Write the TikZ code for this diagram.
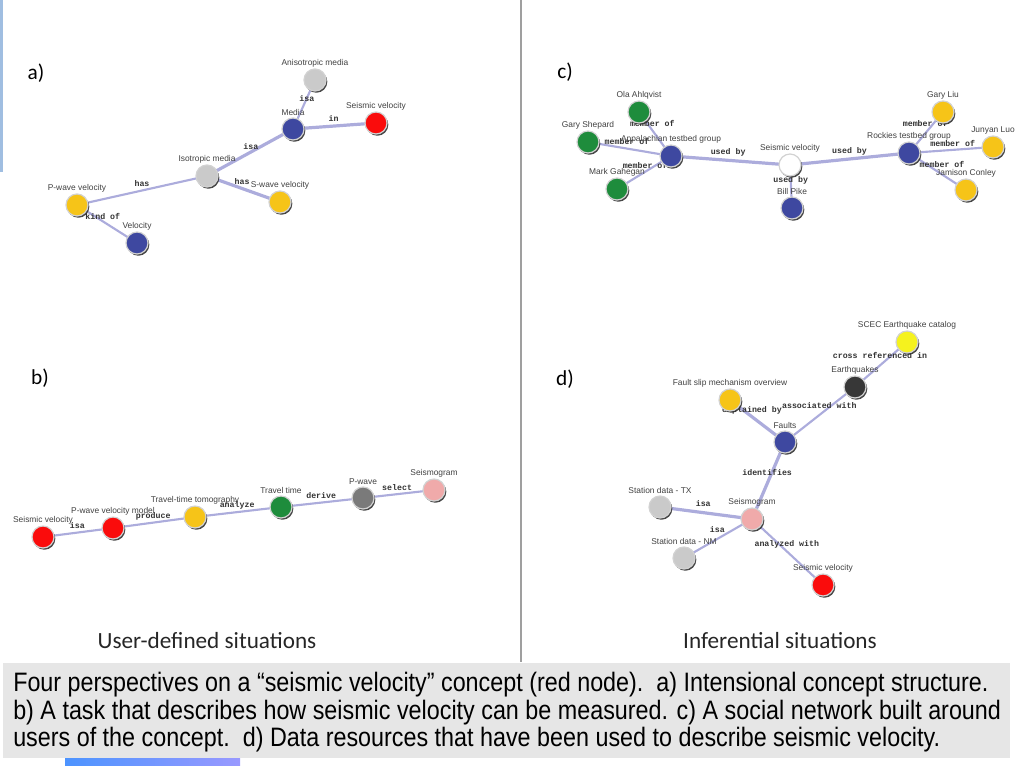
\documentclass[tikz,border=0pt]{standalone}
\usepackage{fontspec}
\setmainfont{Liberation Sans}
\newfontfamily\titlefont{Carlito}
\newfontfamily\edgefont{Liberation Mono}
\newfontfamily\narrowfont[FakeStretch=0.875]{Liberation Sans}
\usetikzlibrary{shadows, backgrounds}

\definecolor{linkcol}{RGB}{172,172,220}
\definecolor{cRed}{RGB}{250,12,12}
\definecolor{cBlue}{RGB}{62,72,160}
\definecolor{cYellow}{RGB}{246,196,24}
\definecolor{cGray}{RGB}{202,202,202}
\definecolor{cGreen}{RGB}{30,140,60}
\definecolor{cPink}{RGB}{240,170,170}
\definecolor{cDark}{RGB}{122,122,122}
\definecolor{cBlack}{RGB}{55,55,55}
\definecolor{cLemon}{RGB}{245,242,30}
\definecolor{capgray}{RGB}{230,230,230}
\definecolor{edgeblue}{RGB}{160,190,225}

\begin{document}
\begin{tikzpicture}[x=0.75pt, y=-0.75pt,
        concept/.style={
          circle,
          fill=#1,
          draw=gray!35,
          line width=0.9pt,
          minimum size=16.5pt,
          inner sep=0pt,
          drop shadow={shadow xshift=1pt, shadow yshift=-1.3pt, fill=black!80, opacity=0.9}
        },
        every label/.style={
          font=\fontsize{6.3}{7}\selectfont,
          text=black!75,
          inner sep=1pt
        },
        link/.style={draw=linkcol, line width=1.6pt},
        thick link/.style={line width=2.4pt},
        elab/.style={
          font=\edgefont\bfseries\fontsize{6.2}{7}\selectfont,
          text=black!80,
          inner sep=0pt
        },
        paneltag/.style={font=\titlefont\fontsize{16}{18}\selectfont},
        sittitle/.style={font=\titlefont\fontsize{17.4}{20}\selectfont, text=black!85}
    ]
    \useasboundingbox (0,0) rectangle (1024,765);

    % Frame pieces
    \fill[edgeblue] (0,0) rectangle (2.5,172);
    \fill[left color=blue!60!cyan!70, right color=blue!40!white] (65,758) rectangle (240,765);
    \draw[gray!75, line width=1.5pt] (521,0) -- (521,662);
    \fill[capgray] (3,663) rectangle (1010,758);

    % Panel tags
    \node[paneltag] (tagA) at (36,73) {a)};
    \node[paneltag] (tagB) at (40,378) {b)};
    \node[paneltag] (tagC) at (565,72) {c)};
    \node[paneltag] (tagD) at (565,379) {d)};

    % a) intensional structure
    \node[concept=cGray, label=above:Anisotropic media] (anisoA) at (315,80) {};
    \node[concept=cBlue, label=above:Media] (mediaA) at (293,129) {};
    \node[concept=cRed, label=above:Seismic velocity] (seisA) at (376,123) {};
    \node[concept=cGray, label=above:Isotropic media] (isoA) at (207,176) {};
    \node[concept=cYellow, label=above:S-wave velocity] (swaveA) at (280,202) {};
    \node[concept=cYellow, label=above:P-wave velocity] (pwaveA) at (77,205) {};
    \node[concept=cBlue, label=above:Velocity] (velA) at (137,243) {};

    % b) measuring task
    \node[concept=cRed, label=above:Seismic velocity] (seisB) at (43,537) {};
    \node[concept=cRed, label=above:P-wave velocity model] (modelB) at (113,528) {};
    \node[concept=cYellow, label=above:Travel-time tomography] (tomoB) at (195,517) {};
    \node[concept=cGreen, label=above:Travel time] (timeB) at (281,507) {};
    \node[concept=cDark, label=above:P-wave] (pwaveB) at (363,498) {};
    \node[concept=cPink, label=above:Seismogram] (gramB) at (434,490) {};

    % c) social network
    \node[concept=cGreen, label=above:Ola Ahlqvist] (olaC) at (639,112) {};
    \node[concept=cGreen, label=above:Gary Shepard] (shepC) at (588,142) {};
    \node[concept=cBlue, label=above:Appalachian testbed group] (appC) at (671,156) {};
    \node[concept=cGreen, label=above:Mark Gahegan] (markC) at (617,189) {};
    \node[concept=white, label=above:Seismic velocity] (seisC) at (790,165) {};
    \node[concept=cBlue, label=above:Bill Pike] (pikeC) at (792,208) {};
    \node[concept=cBlue, label=above:Rockies testbed group] (rockC) at (909,153) {};
    \node[concept=cYellow, label=above:Gary Liu] (liuC) at (943,112) {};
    \node[concept=cYellow, label=above:Junyan Luo] (luoC) at (993,147) {};
    \node[concept=cYellow, label=above:Jamison Conley] (conleyC) at (966,190) {};

    % d) data resources
    \node[concept=cLemon, label=above:SCEC Earthquake catalog] (scecD) at (907,342) {};
    \node[concept=cBlack, label=above:Earthquakes] (eqD) at (855,387) {};
    \node[concept=cYellow, label=above:Fault slip mechanism overview] (fsoD) at (730,400) {};
    \node[concept=cBlue, label=above:Faults] (faultsD) at (785,442) {};
    \node[concept=cPink, label=above:Seismogram] (gramD) at (752,519) {};
    \node[concept=cGray, label=above:Station data - TX] (txD) at (660,507) {};
    \node[concept=cGray, label=above:Station data - NM] (nmD) at (684,558) {};
    \node[concept=cRed, label=above:Seismic velocity] (seisD) at (823,585) {};

    % Connect the nodes
    \begin{scope}[on background layer]
    \draw[link] (mediaA.center) -- node[elab, pos=.63] {isa} (anisoA.center);
    \draw[link, thick link] (mediaA.center) -- node[elab, pos=.49, above=2pt] {in} (seisA.center);
    \draw[link, thick link] (isoA.center) -- node[elab, pos=.51, above=1pt] {isa} (mediaA.center);
    \draw[link] (isoA.center) -- node[elab, pos=.5, above=2pt] {has} (pwaveA.center);
    \draw[link, thick link] (isoA.center) -- node[elab, pos=.48, above=2pt] {has} (swaveA.center);
    \draw[link] (pwaveA.center) -- node[elab, pos=.43, above=0.5pt] {kind of} (velA.center);

    \draw[link] (seisB.center) -- node[elab, pos=.49, above=2pt] {isa} (modelB.center);
    \draw[link] (modelB.center) -- node[elab, pos=.49, above=1pt] {produce} (tomoB.center);
    \draw[link] (tomoB.center) -- node[elab, pos=.49, above=1pt] {analyze} (timeB.center);
    \draw[link] (timeB.center) -- node[elab, pos=.49, above=2pt] {derive} (pwaveB.center);
    \draw[link] (pwaveB.center) -- node[elab, pos=.48, above=2pt] {select} (gramB.center);

    \draw[link] (appC.center) -- node[elab, pos=.75, xshift=4pt] {member of} (olaC.center);
    \draw[link] (appC.center) -- node[elab, pos=.53, above=2pt] {member of} (shepC.center);
    \draw[link] (appC.center) -- node[elab, pos=.48, above=2pt] {member of} (markC.center);
    \draw[link, thick link] (appC.center) -- node[elab, pos=.48, above=2pt] {used by} (seisC.center);
    \draw[link, thick link] (seisC.center) -- node[elab, pos=.5, above=1.5pt] {used by} (rockC.center);
    \draw[link] (seisC.center) -- node[elab, pos=.35] {used by} (pikeC.center);
    \draw[link] (rockC.center) -- node[elab, pos=.73, xshift=-6.5pt] {member of} (liuC.center);
    \draw[link] (rockC.center) -- node[elab, pos=.52, above=2pt] {member of} (luoC.center);
    \draw[link] (rockC.center) -- node[elab, pos=.58, above=4pt] {member of} (conleyC.center);

    \draw[link] (eqD.center) -- node[elab, pos=.48, above=4pt] {cross referenced in} (scecD.center);
    \draw[link] (faultsD.center) -- node[elab, pos=.49, above=4pt] {associated with} (eqD.center);
    \draw[link, thick link] (fsoD.center) -- node[elab, pos=.40, above=0.5pt] {explained by} (faultsD.center);
    \draw[link, thick link] (faultsD.center) -- node[elab, pos=.40, xshift=-3.5pt] {identifies} (gramD.center);
    \draw[link, thick link] (gramD.center) -- node[elab, pos=.53, above=3pt] {isa} (txD.center);
    \draw[link] (gramD.center) -- node[elab, pos=.51, above=4pt] {isa} (nmD.center);
    \draw[link] (gramD.center) -- node[elab, pos=.49, above=1.5pt] {analyzed with} (seisD.center);
    \end{scope}

    % Situation titles
    \node[sittitle] (userSit) at (207,641) {User-defined situations};
    \node[sittitle] (inferSit) at (780,641) {Inferential situations};

    % Caption
    \node[anchor=north west, align=left, inner sep=0pt,
          font=\narrowfont\fontsize{20}{20.6}\selectfont] (captionText) at (13,672)
      {Four perspectives on a “seismic velocity” concept (red node).\ \ a) Intensional concept structure.\\
       b) A task that describes how seismic velocity can be measured. c) A social network built around\\
       users of the concept.\ \ d) Data resources that have been used to describe seismic velocity.};

    \end{tikzpicture}
\end{document}
